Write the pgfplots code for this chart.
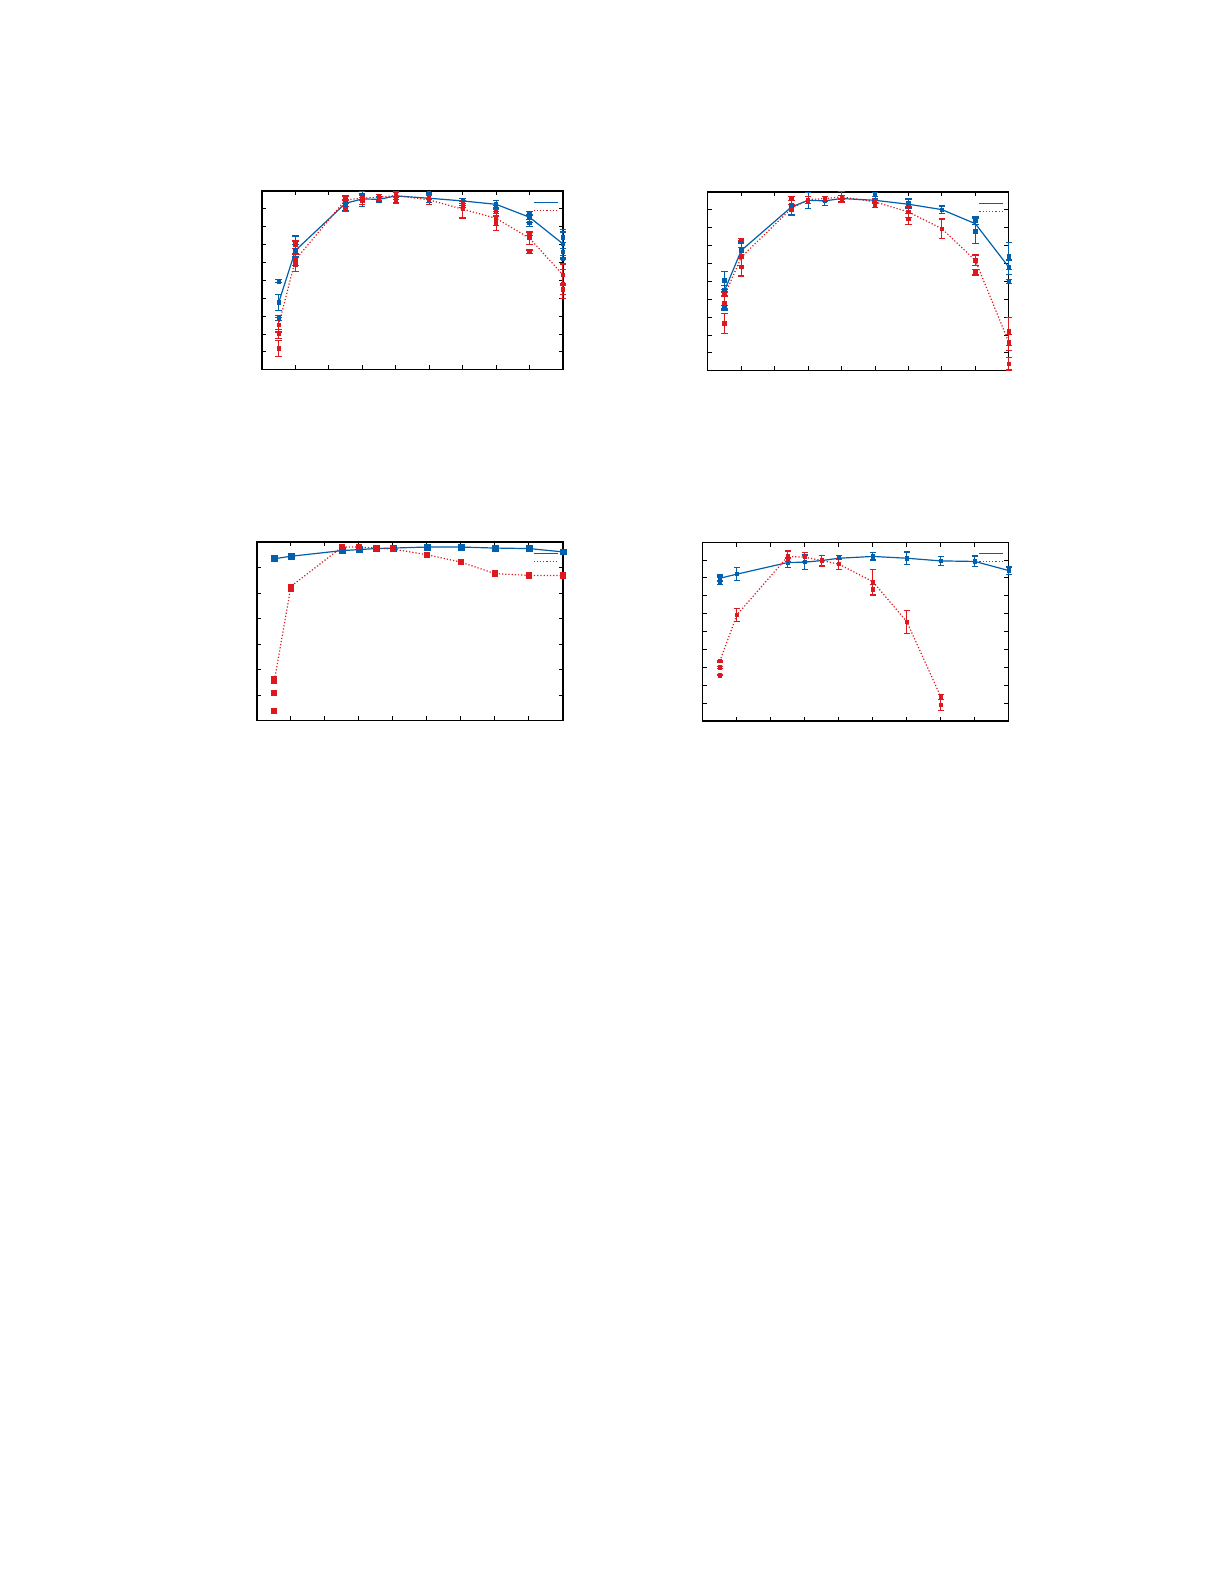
\documentclass[border=0pt]{standalone}
\usepackage{pgfplots}
\pgfplotsset{compat=1.18}
\definecolor{gpblue}{RGB}{0,96,173}
\definecolor{gpred}{RGB}{221,24,31}

\pgfplotsset{
  panel/.style={
    scale only axis, anchor=north west, clip=false,
    xmin=0, xmax=9, xtick={1,...,8}, xticklabels={},
    yticklabels={}, tick align=inside, xtick pos=both, ytick pos=both,
    major tick length=2.2bp, axis line style={line width=0.6bp},
    every tick/.style={black, line width=0.5bp},
    legend style={draw=none, fill=none, at={(1,1)}, anchor=north east,
      xshift=2bp, yshift=-2.2bp, row sep=1.3bp,
      nodes={inner sep=0.6bp, font=\tiny}},
    legend cell align=right,
    legend image code/.code={\draw[##1] (0bp,0bp) -- (12bp,0bp);},
  },
  bline/.style={gpblue, line width=0.6bp, mark=none},
  rline/.style={gpred, line width=0.6bp, densely dotted, mark=none},
  bpts/.style={only marks, gpblue, mark=square*, mark size=#1, forget plot,
    error bars/.cd, y dir=both, y explicit,
    error bar style={gpblue, line width=0.5bp},
    error mark options={gpblue, rotate=90, mark size=1.6pt, line width=0.6bp}},
  bpts/.default=0.85pt,
  rpts/.style={only marks, gpred, mark=square*, mark size=#1, forget plot,
    error bars/.cd, y dir=both, y explicit,
    error bar style={gpred, line width=0.5bp},
    error mark options={gpred, rotate=90, mark size=1.6pt, line width=0.6bp}},
  rpts/.default=0.85pt,
}

\begin{document}
\begin{tikzpicture}
\path[use as bounding box] (0,0) rectangle (612bp,792bp);

% top left
\begin{axis}[panel, at={(130.9bp,696.6bp)}, width=150.4bp, height=89.4bp,
  ymin=0, ymax=10, ytick={1,...,9}]
\addplot[bline] table {
x y
0.5 3.76
1 6.67
2.5 9.31
3 9.55
3.5 9.53
4 9.72
5 9.59
6 9.44
7 9.25
8 8.53
9 7.04
};
\addlegendentry{}
\addplot[rline] table {
x y
0.5 2.51
1 6.15
2.5 9.50
3 9.59
3.5 9.65
4 9.74
5 9.50
6 8.98
7 8.47
8 7.36
9 5.31
};
\addlegendentry{}
\addplot[bpts] table[y error=e] {
x y e
0.5 3.76 0.45
0.5 4.95 0.08
0.5 2.90 0.15
1 6.67 0.35
1 6.98 0.50
2.5 9.31 0.40
2.5 9.10 0.20
3 9.55 0.40
3 9.75 0.10
3.5 9.53 0.15
4 9.72 0.20
5 9.59 0.25
5 9.85 0.05
6 9.44 0.15
6 9.30 0.10
7 9.25 0.20
7 9.10 0.10
8 8.53 0.30
8 8.75 0.10
8 8.20 0.20
9 7.04 0.80
9 7.40 0.30
9 6.60 0.20
9 6.20 0.05
};
\addplot[rpts] table[y error=e] {
x y e
0.5 2.51 0.40
0.5 2.01 0.25
0.5 1.20 0.45
1 6.15 0.30
1 5.90 0.40
1 7.00 0.20
2.5 9.59 0.10
2.5 9.00 0.15
3 9.62 0.15
3 9.45 0.20
3.5 9.72 0.08
3.5 9.55 0.10
4 9.78 0.15
4 9.50 0.20
4 9.65 0.30
5 9.50 0.25
5 9.65 0.10
6 8.98 0.50
6 9.25 0.20
7 8.47 0.40
7 8.20 0.40
7 8.85 0.10
8 7.36 0.35
8 6.60 0.10
8 7.60 0.10
9 5.31 0.60
9 4.80 0.80
9 4.50 0.30
};
\end{axis}

% top right
\begin{axis}[panel, at={(353.7bp,696.1bp)}, width=150.4bp, height=89.4bp,
  ymin=0, ymax=10, ytick={1,...,9}]
\addplot[bline] table {
x y
0.5 4.49
1 6.73
2.5 9.16
3 9.53
3.5 9.50
4 9.63
5 9.53
6 9.31
7 9.01
8 8.22
9 5.79
};
\addlegendentry{}
\addplot[rline] table {
x y
0.5 4.21
1 6.36
2.5 9.07
3 9.57
3.5 9.63
4 9.72
5 9.44
6 8.88
7 7.94
8 6.17
9 1.59
};
\addlegendentry{}
\addplot[bpts] table[y error=e] {
x y e
0.5 5.05 0.50
0.5 4.49 0.30
0.5 3.50 0.15
1 6.73 0.40
1 7.30 0.10
2.5 9.25 0.50
3 9.53 0.45
3.5 9.50 0.25
4 9.63 0.15
5 9.55 0.20
5 9.85 0.10
6 9.35 0.25
7 9.01 0.20
8 8.40 0.20
8 7.80 0.70
9 5.79 0.40
9 6.40 0.75
9 5.00 0.10
};
\addplot[rpts] table[y error=e] {
x y e
0.5 4.30 0.10
0.5 3.80 0.35
0.5 2.65 0.55
1 7.33 0.05
1 6.40 0.50
1 5.80 0.50
2.5 9.63 0.10
2.5 9.00 0.30
3 9.53 0.20
3.5 9.60 0.15
4 9.72 0.30
4 9.50 0.10
5 9.25 0.10
5 9.50 0.10
6 8.88 0.30
6 8.50 0.30
7 7.94 0.55
8 6.17 0.30
8 5.50 0.15
9 1.59 0.45
9 2.20 0.80
9 0.40 0.35
};
\end{axis}

% bottom left
\begin{axis}[panel, at={(128.4bp,521.2bp)}, width=152.9bp, height=89.4bp,
  ymin=0, ymax=7, ytick={1,...,6}]
\addplot[bline] table {
x y
0.5 6.34
1 6.44
2.5 6.66
3 6.70
3.5 6.74
4 6.76
5 6.80
6 6.80
7 6.76
8 6.74
9 6.61
};
\addlegendentry{}
\addplot[rline] table {
x y
0.5 1.48
1 5.26
2.5 6.80
3 6.80
3.5 6.76
4 6.72
5 6.50
6 6.21
7 5.76
8 5.69
9 5.69
};
\addlegendentry{}
\addplot[bpts=1.5pt] table[y error=e] {
x y e
0.5 6.34 0.02
1 6.44 0.02
2.5 6.66 0.06
3 6.70 0.06
3.5 6.74 0.02
4 6.76 0.02
5 6.80 0.02
6 6.80 0.02
7 6.76 0.02
8 6.74 0.04
9 6.61 0.02
};
\addplot[rpts=1.3pt] table[y error=e] {
x y e
0.5 1.60 0.15
0.5 1.08 0.10
0.5 0.39 0.02
1 5.20 0.15
2.5 6.80 0.05
3 6.80 0.05
3.5 6.76 0.03
4 6.72 0.05
5 6.50 0.05
6 6.21 0.04
7 5.76 0.12
8 5.69 0.10
9 5.69 0.08
};
\end{axis}

% bottom right
\begin{axis}[panel, at={(351.2bp,521.1bp)}, width=152.9bp, height=89.4bp,
  ymin=0, ymax=10, ytick={1,...,9}]
\addplot[bline] table {
x y
0.5 7.98
1 8.21
2.5 8.86
3 8.88
3.5 8.97
4 9.10
5 9.20
6 9.10
7 8.95
8 8.92
9 8.41
};
\addlegendentry{}
\addplot[rline] table {
x y
0.5 3.35
1 5.93
2.5 9.20
3 9.16
3.5 8.97
4 8.77
5 7.79
6 5.55
7 1.35
};
\addlegendentry{}
\addplot[bpts] table[y error=e] {
x y e
0.5 7.98 0.20
0.5 8.10 0.05
0.5 7.75 0.10
1 8.21 0.35
2.5 8.86 0.30
3 8.88 0.40
4 9.15 0.10
5 9.20 0.20
6 9.10 0.35
7 8.95 0.25
8 8.92 0.30
9 8.41 0.20
};
\addplot[rpts] table[y error=e] {
x y e
0.5 3.35 0.05
0.5 2.99 0.05
0.5 2.56 0.02
1 5.93 0.35
2.5 9.20 0.30
2.5 9.00 0.10
3 9.16 0.25
3.5 8.97 0.30
4 8.77 0.30
5 7.79 0.70
5 7.35 0.30
6 5.55 0.65
7 1.35 0.15
7 0.90 0.30
};
\end{axis}
\end{tikzpicture}
\end{document}
